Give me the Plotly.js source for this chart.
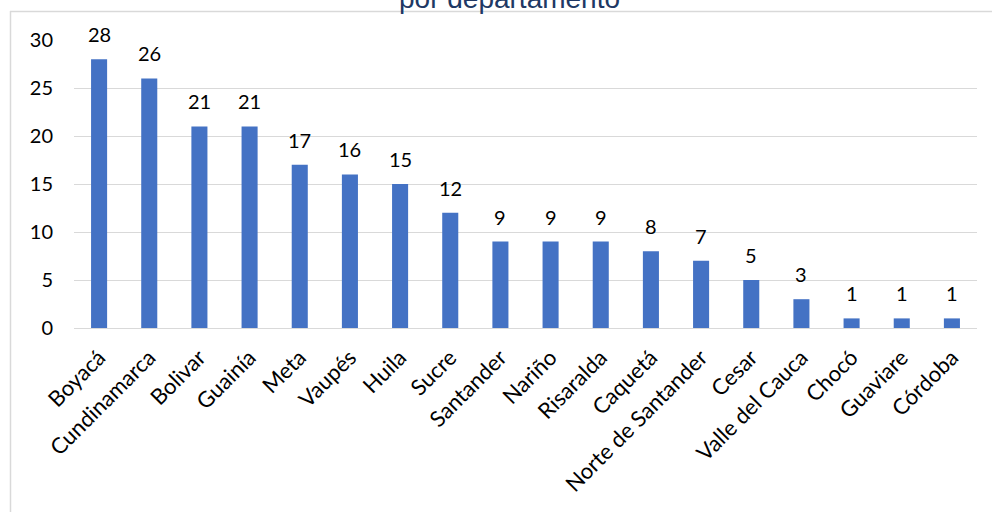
<!DOCTYPE html>
<html>
<head>
<meta charset="utf-8">
<script src="https://cdn.plot.ly/plotly-3.0.1.min.js"></script>
<style>html,body{margin:0;padding:0;background:#fff;}#chart{width:992px;height:512px;}</style>
</head>
<body>
<div id="chart"></div>
<script>
const departamentos = ["Boyacá","Cundinamarca","Bolivar","Guainía","Meta","Vaupés","Huila","Sucre","Santander","Nariño","Risaralda","Caquetá","Norte de Santander","Cesar","Valle del Cauca","Chocó","Guaviare","Córdoba"];
const casos = [28,26,21,21,17,16,15,12,9,9,9,8,7,5,3,1,1,1];
const yTicks = [0,5,10,15,20,25,30];
const titleText = "por departamento";

const W = 992, H = 512;
const m = {l:74, r:15, t:40, b:184};
const pw = W - m.l - m.r, ph = H - m.t - m.b;
const px = x => (x - m.l) / pw;
const py = y => 1 - (y - m.t) / ph;

const font = "Lato, 'Open Sans', sans-serif";

const trace = {
  type: "bar",
  x: departamentos,
  y: casos,
  marker: {color: "#4472c4"},
  width: 0.32,
  hoverinfo: "x+y"
};

const labels = departamentos.map((d, i) => ({
  x: d, y: casos[i], xref: "x", yref: "y",
  text: String(casos[i]), showarrow: false,
  yanchor: "middle", yshift: 25,
  font: {family: font, size: 20, color: "#000"}
}));

labels.push({
  xref: "paper", yref: "paper", x: px(509), y: py(-2),
  text: titleText, showarrow: false, xanchor: "center", yanchor: "middle",
  font: {family: "'Liberation Sans', Arial, sans-serif", size: 28, color: "#203864"}
});

const layout = {
  width: W, height: H,
  margin: m,
  paper_bgcolor: "#fff", plot_bgcolor: "#fff",
  showlegend: false,
  xaxis: {
    type: "category",
    tickangle: -45,
    tickfont: {family: font, size: 22, color: "#000"},
    showgrid: false, zeroline: false,
    showline: true, linecolor: "#d9d9d9", linewidth: 1,
    ticks: "",
    ticklabelstandoff: 7
  },
  yaxis: {
    range: [0, 30],
    tickvals: yTicks,
    tickfont: {family: font, size: 20, color: "#000"},
    showgrid: true, gridcolor: "#d9d9d9", gridwidth: 1,
    zeroline: false, showline: false, ticks: "",
    ticklabelstandoff: 20
  },
  annotations: labels,
  shapes: [
    {type: "line", xref: "paper", yref: "paper", x0: px(10.5), x1: px(10.5), y0: py(11), y1: py(H + 5), line: {color: "#d9d9d9", width: 1.5}},
    {type: "line", xref: "paper", yref: "paper", x0: px(10), x1: px(W + 5), y0: py(11.5), y1: py(11.5), line: {color: "#d9d9d9", width: 1.5}}
  ]
};

Plotly.newPlot("chart", [trace], layout, {displayModeBar: false, staticPlot: true});
</script>
</body>
</html>
